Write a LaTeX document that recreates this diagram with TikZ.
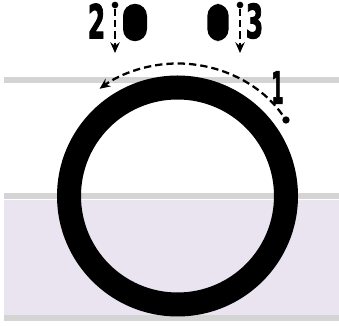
\documentclass[tikz,border=0pt]{standalone}
\usepackage{fontspec}
\setmainfont{DejaVu Sans Condensed}
\newfontfamily\numfont{DejaVu Sans Condensed Bold}[FakeBold=2.5]
\usetikzlibrary{positioning, arrows.meta}

\definecolor{railgray}{HTML}{D4D4D4}
\definecolor{bandfill}{HTML}{E9E4F0}

\begin{document}
\begin{tikzpicture}[
    x=0.75pt, y=0.75pt,
    rail/.style={draw=railgray, line width=4.5pt},
    band/.style={fill=bandfill},
    num/.style={font=\numfont, inner sep=0pt},
    pin/.style={circle, fill=black, inner sep=0pt, minimum size=5pt},
    token/.style={rectangle, fill=black, rounded corners=9pt, minimum width=18pt, minimum height=28pt, inner sep=0pt},
    ring/.style={circle, draw=black, line width=18pt, minimum size=162.75pt, inner sep=0pt},
    move/.style={dash pattern=on 5.5pt off 3pt, line width=1.7pt, -{Stealth[length=8pt, width=7pt]}}
]
    \useasboundingbox (0,0) rectangle (339,327);

    % --- BACKGROUND ---
    \fill [band] (4,12) rectangle (339,127);
    \draw [rail] (4,247) -- (339,247);
    \draw [rail] (4,130.5) -- (339,130.5);
    \draw [rail] (4,8.5) -- (339,8.5);

    % --- RING ---
    \node (ring) [ring] at (177.5,131) {};

    % --- TOKENS ---
    \node (tokL) [token] at (135,304.5) {};
    \node (tokR) [token, minimum width=16pt] at (218,304.5) {};

    \node (pin2) [pin] at (115,322) {};
    \node (pin3) [pin] at (240,322) {};
    \coordinate (tip2) at (115,274);
    \coordinate (tip3) at (240,274);

    \node (two) [num] at (96.5,306) {\resizebox{13pt}{26pt}{2}};
    \node (three) [num] at (254.5,306) {\resizebox{13pt}{26pt}{3}};

    \draw [move] (pin2) -- (tip2);
    \draw [move] (pin3) -- (tip3);

    % --- START POINT ---
    \node (pin1) [pin, minimum size=5.5pt] at (286,207) {};
    \node (one) [num] at (277.5,239.5) {\resizebox{9pt}{24pt}{1}};

    \draw [move, shorten <=5pt] (pin1.center) arc[start angle=35, end angle=126, radius=132.5];

\end{tikzpicture}
\end{document}
